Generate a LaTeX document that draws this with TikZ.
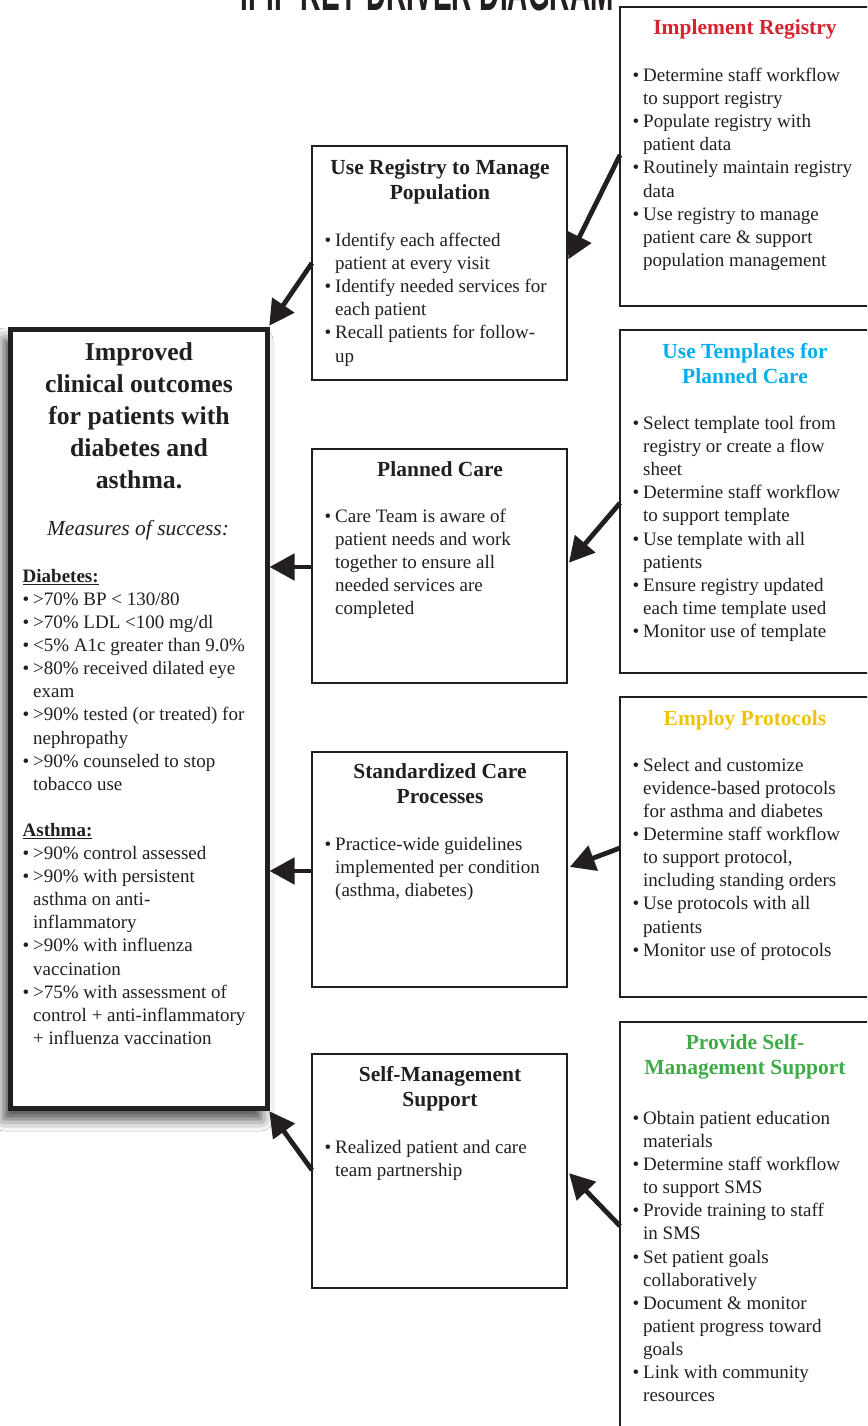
\documentclass[tikz,border=0pt]{standalone}
\usepackage{fontspec}
\setmainfont{Liberation Serif}
\newfontfamily\titlefont{Liberation Sans}
\usetikzlibrary{arrows.meta,shadows.blur}
\definecolor{ink}{RGB}{35,31,32}
\definecolor{hred}{RGB}{214,35,46}
\definecolor{hcyan}{RGB}{0,174,239}
\definecolor{hyellow}{RGB}{237,196,10}
\definecolor{hgreen}{RGB}{62,170,72}
\newcommand\bulletmark{\makebox[10.5pt][l]{\textbullet}}
\newcommand\bulletpad{\hspace*{10.5pt}}
\tikzset{
  x=1pt, y=-1pt,
  rbox/.style={draw=ink, line width=2.6pt, fill=white, inner sep=0pt, outer sep=0pt},
  goalbox/.style={draw=ink, line width=5pt, fill=white, inner sep=0pt, outer sep=0pt,
     blur shadow={shadow xshift=-6pt, shadow yshift=-11pt, shadow blur radius=12pt, shadow opacity=75}},
  bodytext/.style={font=\fontsize{19}{23.1}\selectfont, align=left, inner sep=0pt, anchor=north west, text=ink},
  head/.style={font=\bfseries\fontsize{21.5}{25.5}\selectfont, align=center, inner sep=0pt, anchor=north, text=ink},
  arr/.style={draw=ink, line width=4.8pt, -{Triangle[length=25pt,width=26pt]}},
}
\begin{document}
\begin{tikzpicture}
\useasboundingbox (0,0) rectangle (867,1426);
\begin{scope}
\clip (0,0) rectangle (867,1426);
\fill[white] (0,0) rectangle (867,1426);

% title (cut off at top, as in the reference)
\node[inner sep=0pt, anchor=base, text=ink, font=\titlefont\bfseries\fontsize{56}{56}\selectfont] (title) at (427,11) {\scalebox{0.5}[1]{IPIP KEY DRIVER DIAGRAM}};

% goal box
\node[goalbox, minimum width=257pt, minimum height=779pt] (goal) at (138.5,718.5) {};
\node[inner sep=0pt, anchor=north, align=center, text=ink, font=\bfseries\fontsize{25.7}{32}\selectfont] (goaltitle) at (139,342) {Improved\\clinical outcomes\\for patients with\\diabetes and\\asthma.};
\node[inner sep=0pt, anchor=north, text=ink, font=\itshape\fontsize{21.5}{25}\selectfont] (measures) at (138,520) {Measures of success:};
\node[bodytext] (goallist) at (22.5,569) {\underline{\textbf{Diabetes:}}\\
\bulletmark>70\% BP < 130/80\\
\bulletmark>70\% LDL <100 mg/dl\\
\bulletmark<5\% A1c greater than 9.0\%\\
\bulletmark>80\% received dilated eye\\
\bulletpad exam\\
\bulletmark>90\% tested (or treated) for\\
\bulletpad nephropathy\\
\bulletmark>90\% counseled to stop\\
\bulletpad tobacco use\\[23.1pt]
\underline{\textbf{Asthma:}}\\
\bulletmark>90\% control assessed\\
\bulletmark>90\% with persistent\\
\bulletpad asthma on anti-\\
\bulletpad inflammatory\\
\bulletmark>90\% with influenza\\
\bulletpad vaccination\\
\bulletmark>75\% with assessment of\\
\bulletpad control + anti-inflammatory\\
\bulletpad + influenza vaccination};

% middle boxes
\node[rbox, minimum width=255pt, minimum height=234pt] (mb1) at (439.5,263) {};
\node[rbox, minimum width=255pt, minimum height=234pt] (mb2) at (439.5,566) {};
\node[rbox, minimum width=255pt, minimum height=235pt] (mb3) at (439.5,869.5) {};
\node[rbox, minimum width=255pt, minimum height=234pt] (mb4) at (439.5,1171) {};

\node[head] (mb1h) at (440,159) {Use Registry to Manage\\Population};
\node[bodytext] (mb1b) at (324.5,233) {\bulletmark Identify each affected\\
\bulletpad patient at every visit\\
\bulletmark Identify needed services for\\
\bulletpad each patient\\
\bulletmark Recall patients for follow-\\
\bulletpad up};

\node[head] (mb2h) at (440,461) {Planned Care};
\node[bodytext] (mb2b) at (324.5,509) {\bulletmark Care Team is aware of\\
\bulletpad patient needs and work\\
\bulletpad together to ensure all\\
\bulletpad needed services are\\
\bulletpad completed};

\node[head] (mb3h) at (440,763) {Standardized Care\\Processes};
\node[bodytext] (mb3b) at (324.5,837) {\bulletmark Practice-wide guidelines\\
\bulletpad implemented per condition\\
\bulletpad (asthma, diabetes)};

\node[head] (mb4h) at (440,1066) {Self-Management\\Support};
\node[bodytext] (mb4b) at (324.5,1140) {\bulletmark Realized patient and care\\
\bulletpad team partnership};

% right boxes
\node[rbox, minimum width=252pt, minimum height=299pt] (rb1) at (746,156.5) {};
\node[rbox, minimum width=252pt, minimum height=343pt] (rb2) at (746,501.5) {};
\node[rbox, minimum width=252pt, minimum height=300pt] (rb3) at (746,847) {};
\node[rbox, minimum width=252pt, minimum height=430pt] (rb4) at (746,1237) {};

\node[head, text=hred] (rb1h) at (745,19) {Implement Registry};
\node[bodytext] (rb1b) at (632.5,68) {\bulletmark Determine staff workflow\\
\bulletpad to support registry\\
\bulletmark Populate registry with\\
\bulletpad patient data\\
\bulletmark Routinely maintain registry\\
\bulletpad data\\
\bulletmark Use registry to manage\\
\bulletpad patient care \& support\\
\bulletpad population management};

\node[head, text=hcyan] (rb2h) at (745,343) {Use Templates for\\Planned Care};
\node[bodytext] (rb2b) at (632.5,416) {\bulletmark Select template tool from\\
\bulletpad registry or create a flow\\
\bulletpad sheet\\
\bulletmark Determine staff workflow\\
\bulletpad to support template\\
\bulletmark Use template with all\\
\bulletpad patients\\
\bulletmark Ensure registry updated\\
\bulletpad each time template used\\
\bulletmark Monitor use of template};

\node[head, text=hyellow] (rb3h) at (745,710) {Employ Protocols};
\node[bodytext] (rb3b) at (632.5,758) {\bulletmark Select and customize\\
\bulletpad evidence-based protocols\\
\bulletpad for asthma and diabetes\\
\bulletmark Determine staff workflow\\
\bulletpad to support protocol,\\
\bulletpad including standing orders\\
\bulletmark Use protocols with all\\
\bulletpad patients\\
\bulletmark Monitor use of protocols};

\node[head, text=hgreen] (rb4h) at (745,1034) {Provide Self-\\Management Support};
\node[bodytext] (rb4b) at (632.5,1111) {\bulletmark Obtain patient education\\
\bulletpad materials\\
\bulletmark Determine staff workflow\\
\bulletpad to support SMS\\
\bulletmark Provide training to staff\\
\bulletpad in SMS\\
\bulletmark Set patient goals\\
\bulletpad collaboratively\\
\bulletmark Document \& monitor\\
\bulletpad patient progress toward\\
\bulletpad goals\\
\bulletmark Link with community\\
\bulletpad resources};

% arrows
\draw[arr, shorten >=3pt] (rb1.west |- 0,155) -- (mb1.east |- 0,262);
\draw[arr, shorten >=4pt] (mb1.west |- 0,263) -- (goal.north east);
\draw[arr, shorten >=3pt] (rb2.west |- 0,503) -- (mb2.east |- 0,565);
\draw[arr, shorten >=2.5pt] (mb2.west |- 0,567) -- (goal.east |- 0,567);
\draw[arr, shorten >=3pt] (rb3.west |- 0,848) -- (mb3.east |- 0,868);
\draw[arr, shorten >=2.5pt] (mb3.west |- 0,871) -- (goal.east |- 0,871);
\draw[arr, shorten >=3pt] (rb4.west |- 0,1226) -- (mb4.east |- 0,1171);
\draw[arr, shorten >=4pt] (mb4.west |- 0,1170) -- (goal.south east);
\end{scope}
\end{tikzpicture}
\end{document}
